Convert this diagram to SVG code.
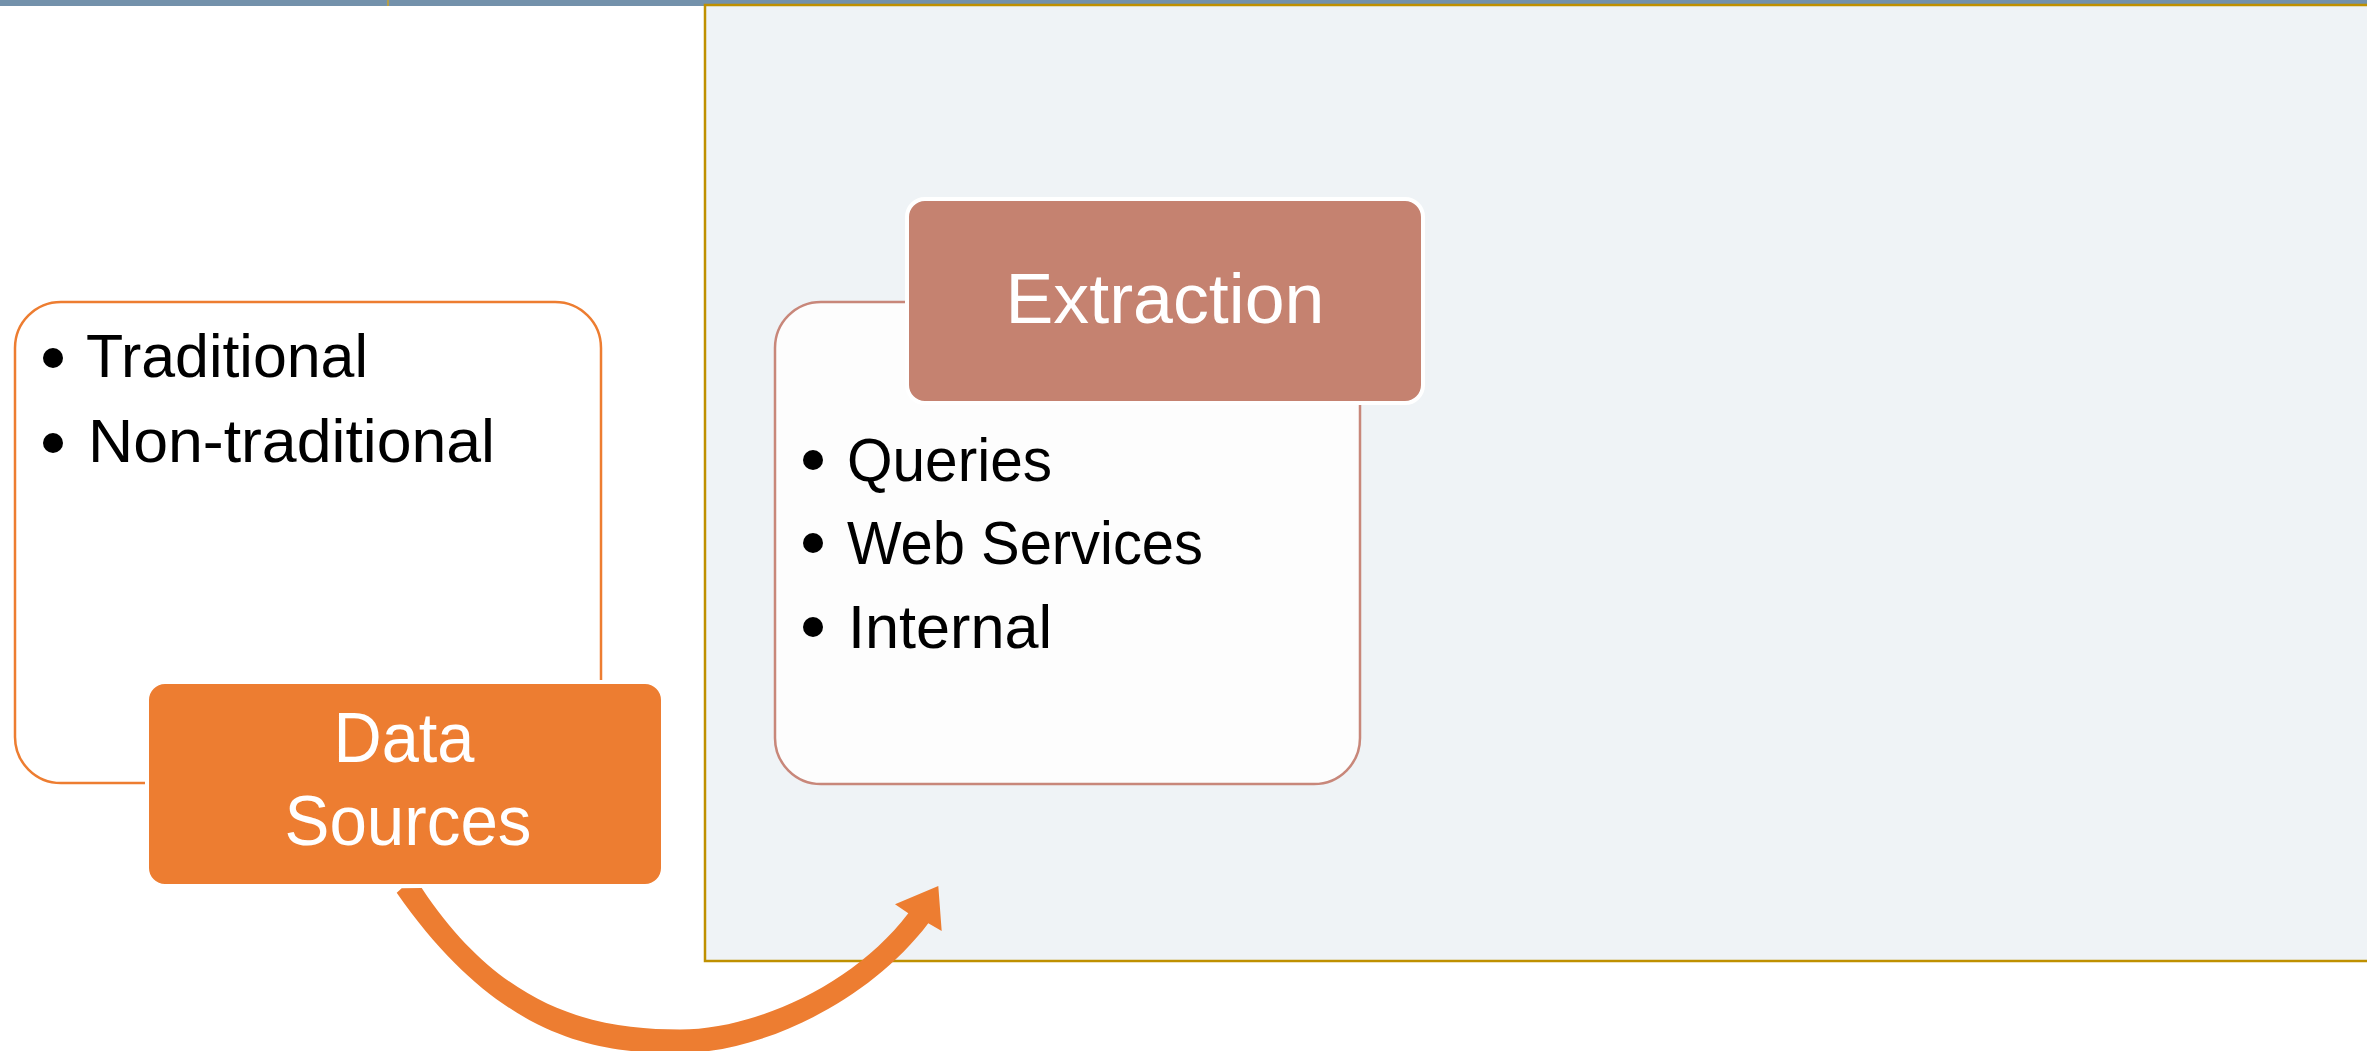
<svg xmlns="http://www.w3.org/2000/svg" width="2367" height="1051" viewBox="0 0 2367 1051">
<style>
.bul{font-family:"Liberation Sans",Arial,sans-serif;font-size:61px;fill:#000}
.ttl{font-family:"Liberation Sans",Arial,sans-serif;font-size:70px;fill:#fff;text-anchor:middle}
.dot{fill:#000}
</style>
<rect x="0" y="0" width="2367" height="1051" fill="#ffffff"/>
<rect x="0" y="0" width="2367" height="6" fill="#7391AB"/>
<line x1="388" y1="0" x2="388" y2="6" stroke="#C9A227" stroke-width="1.5"/>
<rect id="frame" x="705" y="5" width="1700" height="956" fill="#EFF3F6" stroke="#BF9000" stroke-width="2.5"/>

<g id="data-sources-detail">
<rect x="15" y="302" width="586" height="481" rx="46" ry="46" fill="#ffffff" stroke="#ED7D31" stroke-width="2.5"/>
<circle class="dot" cx="53" cy="358" r="10"/>
<text class="bul" x="86" y="377" textLength="282" lengthAdjust="spacingAndGlyphs">Traditional</text>
<circle class="dot" cx="53" cy="443" r="10"/>
<text class="bul" x="88" y="462" textLength="407" lengthAdjust="spacingAndGlyphs">Non-traditional</text>
</g>

<g id="data-sources">
<rect x="147" y="682" width="516" height="204" rx="18" ry="18" fill="#ED7D31" stroke="#ffffff" stroke-width="4"/>
<text class="ttl" x="404" y="762" textLength="141" lengthAdjust="spacingAndGlyphs">Data</text>
<text class="ttl" x="408" y="845" textLength="247" lengthAdjust="spacingAndGlyphs">Sources</text>
</g>

<g id="extraction-detail">
<rect x="775" y="302" width="585" height="482" rx="46" ry="46" fill="#FDFDFD" stroke="#C8877A" stroke-width="2.5"/>
<circle class="dot" cx="813" cy="460" r="10"/>
<text class="bul" x="847" y="481" textLength="205" lengthAdjust="spacingAndGlyphs">Queries</text>
<circle class="dot" cx="813" cy="543" r="10"/>
<text class="bul" x="847" y="564" textLength="356" lengthAdjust="spacingAndGlyphs">Web Services</text>
<circle class="dot" cx="813" cy="627" r="10"/>
<text class="bul" x="848" y="648" textLength="204" lengthAdjust="spacingAndGlyphs">Internal</text>
</g>

<g id="extraction">
<rect x="907" y="199" width="516" height="204" rx="18" ry="18" fill="#C58270" stroke="#ffffff" stroke-width="4"/>
<text class="ttl" x="1165" y="323" textLength="319" lengthAdjust="spacingAndGlyphs">Extraction</text>
</g>

<g id="connectors">
<path d="M 421.7 888 C 504.2 1013 600 1029.5 680 1029.5 C 755 1029.5 854 985 908.3 913.3 L 895 904.3 L 938.3 886 L 941.7 931 L 928.3 923.3 C 868 1003 760 1053 680 1053 C 610 1053 505 1048.5 396.7 892.7 L 401.7 888.3 Z" fill="#ED7D31"/>
</g>
</svg>
